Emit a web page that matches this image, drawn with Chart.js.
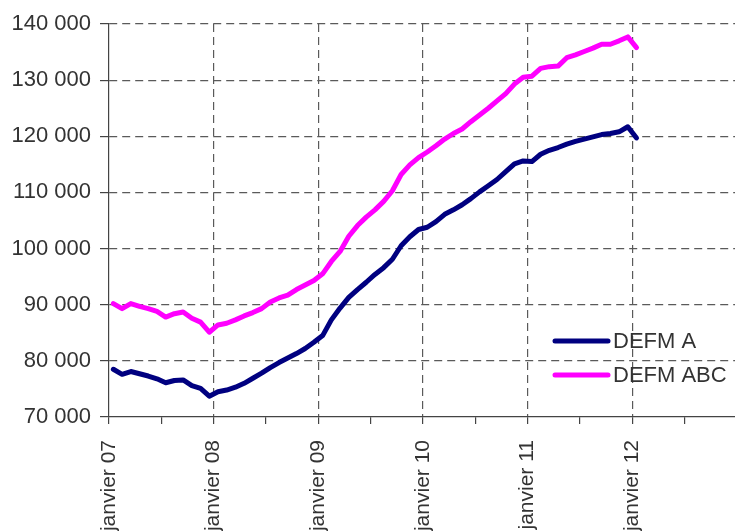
<!DOCTYPE html>
<html>
<head>
<meta charset="utf-8">
<script src="https://cdn.jsdelivr.net/npm/chart.js@4"></script>
<style>
  html, body { margin: 0; padding: 0; background: #fff; overflow: hidden; }
  #wrap { width: 735px; height: 531px; overflow: hidden; }
</style>
</head>
<body>
<div id="wrap"><canvas id="defmChart" width="778" height="531"></canvas></div>
<script>
// one label per January, starting January 2007
const yearLabels = ['07', '08', '09', '10', '11', '12'];
const monthsShown = 72;

// monthly values, janvier 07 -> janvier 12
const defmA = [
  78500, 77600, 78100, 77700, 77300, 76800, 76100, 76500, 76600, 75600, 75100, 73700,
  74500, 74800, 75300, 76000, 76900, 77800, 78800, 79700, 80500, 81300, 82200, 83300,
  84500, 87300, 89400, 91300, 92700, 94000, 95400, 96600, 98100, 100500, 102100, 103400,
  103800, 104800, 106100, 106900, 107800, 108900, 110100, 111200, 112300, 113700, 115100, 115600,
  115500, 116800, 117500, 118000, 118600, 119100, 119500, 119900, 120300, 120500, 120800, 121700,
  119700
];
const defmABC = [
  90200, 89300, 90200, 89700, 89300, 88800, 87800, 88400, 88700, 87600, 86900, 85100,
  86400, 86700, 87300, 88000, 88600, 89300, 90500, 91200, 91700, 92700, 93500, 94300,
  95500, 97700, 99500, 102200, 104100, 105600, 106900, 108400, 110300, 113200, 114900, 116200,
  117200, 118300, 119500, 120500, 121300, 122600, 123800, 125000, 126300, 127600, 129300, 130500,
  130700, 132100, 132400, 132500, 134000, 134500, 135100, 135700, 136400, 136400, 137000, 137700,
  135800
];
const seriesNames = ['DEFM A', 'DEFM ABC'];
const yMin = 70000, yMax = 140000, yStep = 10000;

const FONT = 'Arial, "Liberation Sans", sans-serif';
const GRID = '#5a5a5a';
const AXIS = '#444';

// points sit in the middle of each month slot
const toPoints = arr => arr.map((v, i) => ({ x: i + 0.5, y: v }));
const fmt = v => String(v).replace(/\B(?=(\d{3})+(?!\d))/g, ' ');

const lineLegend = {
  id: 'lineLegend',
  afterDraw(chart) {
    const ctx = chart.ctx;
    chart.data.datasets.forEach((ds, i) => {
      const y = 341 + i * 34;
      ctx.save();
      ctx.strokeStyle = ds.borderColor;
      ctx.lineWidth = 5;
      ctx.lineCap = 'round';
      ctx.beginPath();
      ctx.moveTo(555, y);
      ctx.lineTo(608, y);
      ctx.stroke();
      ctx.fillStyle = '#333';
      ctx.font = '22px ' + FONT;
      ctx.textBaseline = 'middle';
      ctx.fillText(ds.label, 613, y + 1);
      ctx.restore();
    });
  }
};

const ctx = document.getElementById('defmChart').getContext('2d');
new Chart(ctx, {
  type: 'line',
  data: {
    datasets: [{
      label: seriesNames[0],
      data: toPoints(defmA),
      borderColor: '#000080',
      borderWidth: 5,
      pointRadius: 0,
      tension: 0,
      borderJoinStyle: 'round',
      borderCapStyle: 'round'
    }, {
      label: seriesNames[1],
      data: toPoints(defmABC),
      borderColor: '#ff00ff',
      borderWidth: 5,
      pointRadius: 0,
      tension: 0,
      borderJoinStyle: 'round',
      borderCapStyle: 'round'
    }]
  },
  options: {
    responsive: false,
    animation: false,
    devicePixelRatio: 1,
    layout: { padding: { top: 24, right: 6, left: 0, bottom: 0 } },
    plugins: {
      legend: { display: false },
      tooltip: { enabled: false }
    },
    scales: {
      x: {
        type: 'linear',
        min: 0,
        max: monthsShown,
        afterFit: scale => { scale.height = 114; },
        ticks: {
          stepSize: 6,
          autoSkip: false,
          minRotation: 90,
          maxRotation: 90,
          padding: 16,
          color: '#333',
          font: { family: FONT, size: 21 },
          callback: function(value) {
            if (value % 12 !== 0) return '';
            const y = yearLabels[value / 12];
            return y ? 'janvier ' + y : '';
          }
        },
        grid: {
          color: c => (c.tick && c.tick.value % 12 === 0 && c.tick.value !== 0) ? GRID : 'rgba(0,0,0,0)',
          tickColor: AXIS,
          tickLength: 7,
          lineWidth: 1.2
        },
        border: { display: true, color: AXIS, width: 1.2, dash: [8, 5] }
      },
      y: {
        min: yMin,
        max: yMax,
        afterFit: scale => { scale.width = 109; },
        ticks: {
          stepSize: yStep,
          padding: 9,
          color: '#333',
          font: { family: FONT, size: 22 },
          callback: function(value) {
            return fmt(value);
          }
        },
        grid: {
          color: c => (c.tick && c.tick.value === yMin) ? 'rgba(0,0,0,0)' : GRID,
          tickColor: AXIS,
          tickLength: 9,
          lineWidth: 1.2
        },
        border: { display: true, color: AXIS, width: 1.2, dash: [8, 5] }
      }
    }
  },
  plugins: [lineLegend]
});
</script>
</body>
</html>
